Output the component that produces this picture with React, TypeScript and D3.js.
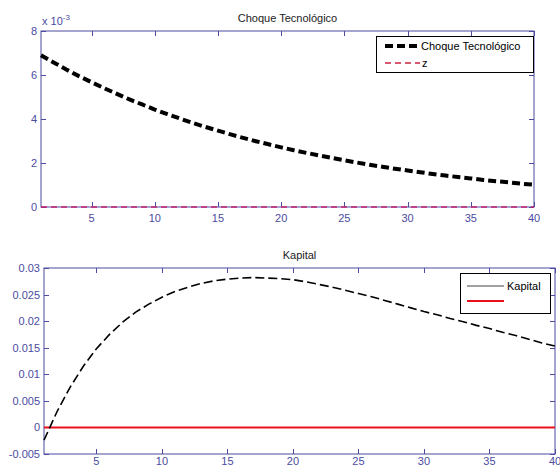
import React, { useRef, useEffect } from 'react';
import * as d3 from 'd3';

// periods 1..40
const periods = d3.range(1, 41);

// technology shock, in units of 1e-3
const shock = [
  6.90, 6.57, 6.25, 5.95, 5.67, 5.40, 5.14, 4.89, 4.66, 4.43,
  4.22, 4.02, 3.82, 3.64, 3.47, 3.30, 3.14, 2.99, 2.85, 2.71,
  2.58, 2.46, 2.34, 2.23, 2.12, 2.02, 1.92, 1.83, 1.74, 1.66,
  1.58, 1.50, 1.43, 1.36, 1.30, 1.23, 1.17, 1.12, 1.06, 1.01,
];
const zLine = periods.map(() => 0);

const kapital = [
  -0.0024, 0.0030, 0.0076, 0.0115, 0.0148, 0.0175, 0.0198, 0.0217, 0.0232, 0.0245,
  0.0256, 0.0264, 0.0271, 0.0276, 0.0279, 0.0281, 0.0282, 0.0281, 0.0280, 0.0278,
  0.0274, 0.0269, 0.0264, 0.0258, 0.0252, 0.0246, 0.0239, 0.0232, 0.0225, 0.0218,
  0.0212, 0.0205, 0.0199, 0.0192, 0.0186, 0.0179, 0.0173, 0.0166, 0.0159, 0.0153,
];
const zeroLine = periods.map(() => 0);

const xTicks = [5, 10, 15, 20, 25, 30, 35, 40];
const topYTicks = [0, 2, 4, 6, 8];
const botYTicks = [-0.005, 0, 0.005, 0.01, 0.015, 0.02, 0.025, 0.03];

const axisColor = '#4b4ba0';
const font = '"Liberation Sans", Arial, sans-serif';

const App = () => {
  const ref = useRef<SVGSVGElement>(null);

  useEffect(() => {
    const svg = d3.select(ref.current);
    svg.selectAll('*').remove();
    svg.append('rect').attr('width', 560).attr('height', 468).attr('fill', '#fff');

    const drawPanel = (opts: any) => {
      const { left, right, top, bottom, yDomain, yTicks, yFmt, title, titleY, xLabelDy } = opts;
      const x = d3.scaleLinear().domain([1, 40]).range([left, right]);
      const y = d3.scaleLinear().domain(yDomain).range([bottom, top]);
      const g = svg.append('g');

      g.append('rect')
        .attr('x', left).attr('y', top)
        .attr('width', right - left).attr('height', bottom - top)
        .attr('fill', 'none').attr('stroke', axisColor).attr('stroke-width', 1);

      const tk = 5;
      xTicks.forEach((t) => {
        const px = Math.round(x(t)) + 0.5;
        g.append('line').attr('x1', px).attr('x2', px).attr('y1', bottom).attr('y2', bottom - tk).attr('stroke', axisColor);
        g.append('line').attr('x1', px).attr('x2', px).attr('y1', top).attr('y2', top + tk).attr('stroke', axisColor);
        g.append('text').attr('x', x(t)).attr('y', bottom + xLabelDy)
          .attr('text-anchor', 'middle').attr('fill', axisColor)
          .attr('font-family', font).attr('font-size', 11).text(t);
      });
      yTicks.forEach((t: number) => {
        const py = Math.round(y(t)) + 0.5;
        g.append('line').attr('x1', left).attr('x2', left + tk).attr('y1', py).attr('y2', py).attr('stroke', axisColor);
        g.append('line').attr('x1', right).attr('x2', right - tk).attr('y1', py).attr('y2', py).attr('stroke', axisColor);
        g.append('text').attr('x', left - 4).attr('y', y(t) + 4)
          .attr('text-anchor', 'end').attr('fill', axisColor)
          .attr('font-family', font).attr('font-size', 11).text(yFmt(t));
      });

      g.append('text').attr('x', (left + right) / 2).attr('y', titleY)
        .attr('text-anchor', 'middle').attr('fill', '#222')
        .attr('font-family', font).attr('font-size', 11).text(title);

      const line = (vals: number[]) =>
        d3.line<number>().x((_, i) => x(periods[i])).y((d) => y(d))(vals);

      return { g, x, y, line };
    };

    // top panel
    const p1 = drawPanel({
      left: 41, right: 534, top: 31, bottom: 207,
      yDomain: [0, 8], yTicks: topYTicks, yFmt: (t: number) => String(t),
      title: 'Choque Tecnológico', titleY: 22, xLabelDy: 15,
    });
    p1.g.append('path').attr('d', p1.line(zLine)).attr('fill', 'none')
      .attr('stroke', '#c8206e').attr('stroke-width', 1.5).attr('stroke-dasharray', '6,4');
    p1.g.append('path').attr('d', p1.line(shock)).attr('fill', 'none')
      .attr('stroke', '#000').attr('stroke-width', 4).attr('stroke-dasharray', '8,4');
    const exp = p1.g.append('text').attr('x', 42).attr('y', 25)
      .attr('fill', axisColor).attr('font-family', font).attr('font-size', 11);
    exp.append('tspan').text('x 10');
    exp.append('tspan').attr('dy', -5).attr('font-size', 8).text('-3');

    // top legend
    const l1 = p1.g.append('g');
    l1.append('rect').attr('x', 376.5).attr('y', 36.5).attr('width', 157).attr('height', 36)
      .attr('fill', '#fff').attr('stroke', '#000');
    l1.append('line').attr('x1', 385).attr('x2', 420).attr('y1', 46).attr('y2', 46)
      .attr('stroke', '#000').attr('stroke-width', 4).attr('stroke-dasharray', '8,4');
    l1.append('text').attr('x', 421).attr('y', 50).attr('font-family', font).attr('font-size', 11)
      .attr('fill', '#000').text('Choque Tecnológico');
    l1.append('line').attr('x1', 385).attr('x2', 420).attr('y1', 63).attr('y2', 63)
      .attr('stroke', '#d02040').attr('stroke-width', 1.5).attr('stroke-dasharray', '6,4');
    l1.append('text').attr('x', 422).attr('y', 67).attr('font-family', font).attr('font-size', 11)
      .attr('fill', '#000').text('z');

    // bottom panel
    const p2 = drawPanel({
      left: 44, right: 555, top: 268, bottom: 454,
      yDomain: [-0.005, 0.03], yTicks: botYTicks, yFmt: (t: number) => String(+t.toFixed(3)),
      title: 'Kapital', titleY: 259, xLabelDy: 11,
    });
    p2.g.append('path').attr('d', p2.line(zeroLine)).attr('fill', 'none')
      .attr('stroke', '#e8101a').attr('stroke-width', 2);
    p2.g.append('path').attr('d', p2.line(kapital)).attr('fill', 'none')
      .attr('stroke', '#000').attr('stroke-width', 1.6).attr('stroke-dasharray', '9,4');

    const l2 = p2.g.append('g');
    l2.append('rect').attr('x', 460.5).attr('y', 273.5).attr('width', 90).attr('height', 40)
      .attr('fill', '#fff').attr('stroke', '#000');
    l2.append('line').attr('x1', 467).attr('x2', 504).attr('y1', 286).attr('y2', 286)
      .attr('stroke', '#444').attr('stroke-width', 1);
    l2.append('text').attr('x', 507).attr('y', 290).attr('font-family', font).attr('font-size', 11)
      .attr('fill', '#000').text('Kapital');
    l2.append('line').attr('x1', 467).attr('x2', 504).attr('y1', 301).attr('y2', 301)
      .attr('stroke', '#e8101a').attr('stroke-width', 2);
  }, []);

  return (
    <svg ref={ref} width={560} height={468}
      style={{ position: 'absolute', left: 0, top: 0 }} />
  );
};

export default App;
